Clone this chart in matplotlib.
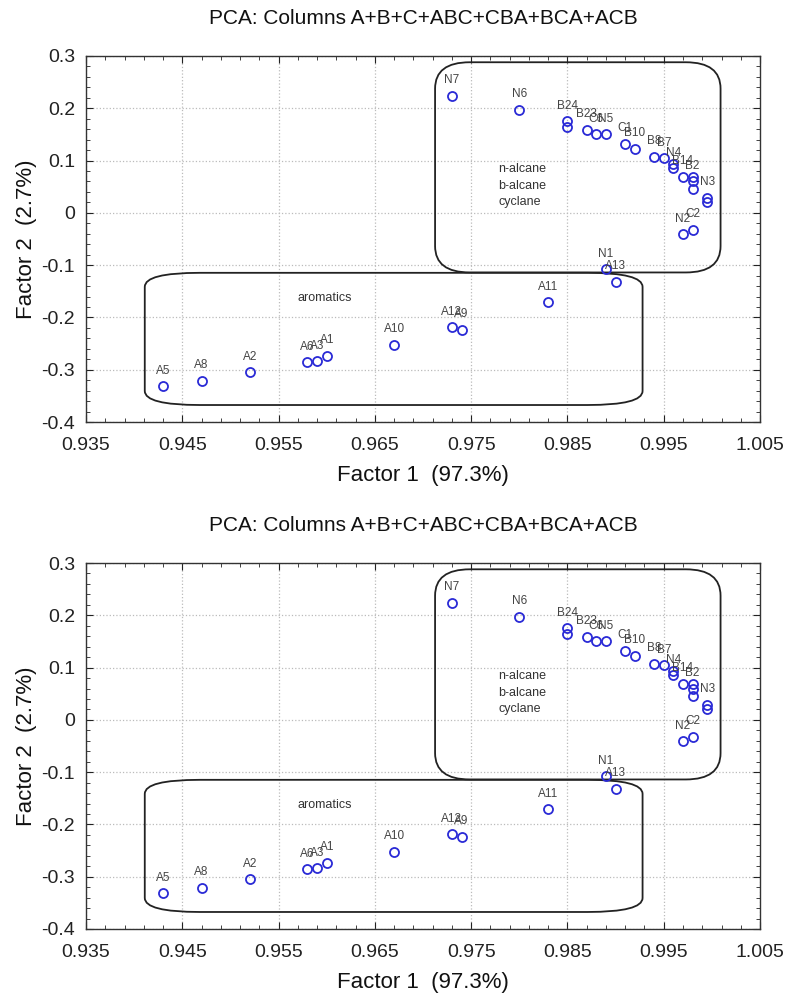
import matplotlib
matplotlib.use('Agg')
import matplotlib.pyplot as plt
from matplotlib.patches import FancyBboxPatch
from matplotlib.ticker import MultipleLocator

plt.rcParams['font.family'] = ['Liberation Sans Narrow', 'Liberation Sans', 'DejaVu Sans']

# PCA scores
names = ['N7', 'N6', 'B24', '', 'B23', 'C6', 'N5', 'C1', 'B10', 'B8', 'B7', '', 'N4',
         'B14', '', 'B2', '', 'N3', '', 'C2', 'N2', 'N1', 'A13', 'A11', 'A12', 'A9',
         'A10', 'A1', 'A3', 'A6', 'A2', 'A8', 'A5']
factor1 = [0.973, 0.980, 0.985, 0.985, 0.987, 0.988, 0.989, 0.991, 0.992, 0.994, 0.995,
           0.996, 0.996, 0.997, 0.998, 0.998, 0.998, 0.9995, 0.9995, 0.998, 0.997,
           0.989, 0.990, 0.983, 0.973, 0.974, 0.967, 0.960, 0.959, 0.958, 0.952,
           0.947, 0.943]
factor2 = [0.224, 0.197, 0.175, 0.165, 0.159, 0.150, 0.150, 0.132, 0.123, 0.107, 0.104,
           0.094, 0.085, 0.069, 0.068, 0.060, 0.046, 0.029, 0.020, -0.033, -0.041,
           -0.108, -0.132, -0.171, -0.219, -0.224, -0.252, -0.273, -0.284, -0.286,
           -0.305, -0.321, -0.332]

title = 'PCA: Columns A+B+C+ABC+CBA+BCA+ACB'
xlabel = 'Factor 1  (97.3%)'
ylabel = 'Factor 2  (2.7%)'


def draw_panel(ax):
    ax.set_xlim(0.935, 1.005)
    ax.set_ylim(-0.4, 0.3)
    ax.xaxis.set_major_locator(MultipleLocator(0.01, offset=0.005))
    ax.xaxis.set_minor_locator(MultipleLocator(0.002, offset=0.001))
    ax.yaxis.set_major_locator(MultipleLocator(0.1))
    ax.yaxis.set_minor_locator(MultipleLocator(0.02))
    ax.xaxis.set_major_formatter(plt.FuncFormatter(lambda v, p: '%.3f' % v))
    ax.yaxis.set_major_formatter(plt.FuncFormatter(lambda v, p: '0' if abs(v) < 1e-9 else ('%.1f' % v)))
    ax.grid(True, which='major', linestyle=':', color='#bbbbbb', linewidth=0.9)
    ax.set_axisbelow(True)
    ax.tick_params(which='both', direction='in', top=True, right=True, labelsize=14,
                   colors='#222222')
    ax.tick_params(which='major', length=5, pad=8)
    ax.tick_params(axis='x', which='major', pad=11)
    ax.tick_params(which='minor', length=3)
    for s in ax.spines.values():
        s.set_color('#333333')
        s.set_linewidth(1.0)

    # group boxes
    alk = FancyBboxPatch((0.97125, -0.114), 1.0009 - 0.97125, 0.288 + 0.114,
                         boxstyle='round,pad=0,rounding_size=0.0036',
                         mutation_aspect=14, fill=False, edgecolor='#222222', lw=1.3)
    aro = FancyBboxPatch((0.9411, -0.3675), 0.9928 - 0.9411, 0.3675 - 0.1147,
                         boxstyle='round,pad=0,rounding_size=0.0057',
                         mutation_aspect=4.7, fill=False, edgecolor='#222222', lw=1.3)
    ax.add_patch(alk)
    ax.add_patch(aro)
    small = ['Liberation Sans', 'DejaVu Sans']
    ax.text(0.9778, 0.083, 'n-alcane', fontsize=9, color='#333333', va='center', family=small)
    ax.text(0.9778, 0.051, 'b-alcane', fontsize=9, color='#333333', va='center', family=small)
    ax.text(0.9778, 0.020, 'cyclane', fontsize=9, color='#333333', va='center', family=small)
    ax.text(0.9598, -0.1625, 'aromatics', fontsize=9, color='#333333', ha='center',
            va='center', family=small)

    ax.plot(factor1, factor2, 'o', markerfacecolor='none', markeredgecolor='#2a2ad6',
            markersize=6.5, markeredgewidth=1.3, zorder=3)
    for n, x, y in zip(names, factor1, factor2):
        if n:
            ax.annotate(n, (x, y), xytext=(0, 7), textcoords='offset points',
                        ha='center', va='bottom', fontsize=8.5, color='#444444',
                        family=small)

    ax.set_title(title, fontsize=15, pad=23, color='#111111')
    ax.set_xlabel(xlabel, fontsize=16, labelpad=8, color='#111111')
    ax.set_ylabel(ylabel, fontsize=16, labelpad=3, color='#111111')


fig = plt.figure(figsize=(7.85, 9.96), dpi=100)
ax1 = fig.add_axes([0.1096, 0.5763, 0.8586, 0.3675])
ax2 = fig.add_axes([0.1096, 0.0673, 0.8586, 0.3674])
draw_panel(ax1)
draw_panel(ax2)
fig.savefig('out.png', dpi=100)
